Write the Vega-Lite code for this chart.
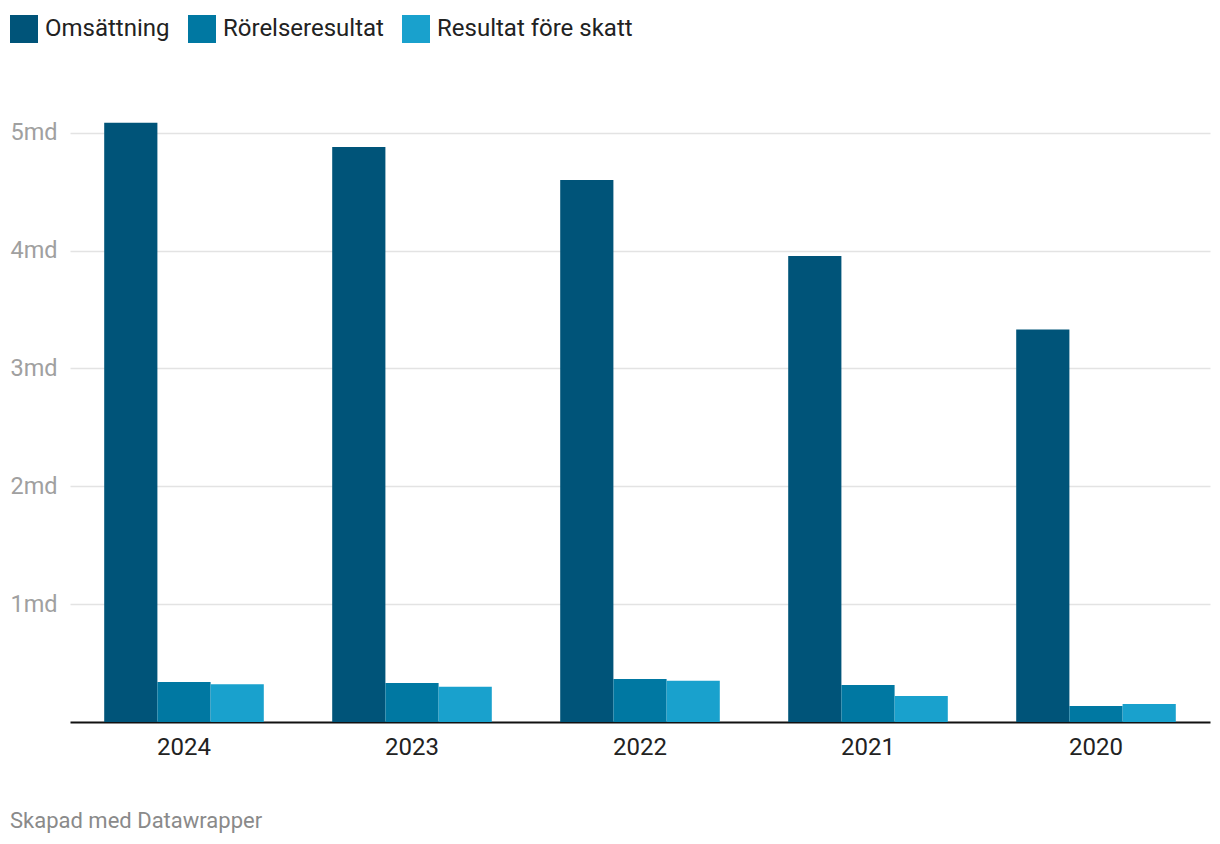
{
  "$schema": "https://vega.github.io/schema/vega-lite/v6.json",
  "autosize": {"type": "none"},
  "width": 1140,
  "height": 601,
  "padding": {"left": 70, "top": 121, "right": 10, "bottom": 122},
  "background": "white",
  "config": {
    "font": "Roboto",
    "view": {"stroke": null}
  },
  "title": {
    "text": "Skapad med Datawrapper",
    "orient": "bottom",
    "anchor": "start",
    "frame": "group",
    "dx": -60,
    "offset": 52,
    "fontSize": 22,
    "fontWeight": "normal",
    "color": "#8a8a8a",
    "font": "Roboto"
  },
  "data": {
    "values": [
      {"year": "2024", "serie": "Omsättning", "value": 5.085},
      {"year": "2024", "serie": "Rörelseresultat", "value": 0.34},
      {"year": "2024", "serie": "Resultat före skatt", "value": 0.32},
      {"year": "2023", "serie": "Omsättning", "value": 4.88},
      {"year": "2023", "serie": "Rörelseresultat", "value": 0.33},
      {"year": "2023", "serie": "Resultat före skatt", "value": 0.30},
      {"year": "2022", "serie": "Omsättning", "value": 4.60},
      {"year": "2022", "serie": "Rörelseresultat", "value": 0.365},
      {"year": "2022", "serie": "Resultat före skatt", "value": 0.35},
      {"year": "2021", "serie": "Omsättning", "value": 3.955},
      {"year": "2021", "serie": "Rörelseresultat", "value": 0.315},
      {"year": "2021", "serie": "Resultat före skatt", "value": 0.22},
      {"year": "2020", "serie": "Omsättning", "value": 3.33},
      {"year": "2020", "serie": "Rörelseresultat", "value": 0.135},
      {"year": "2020", "serie": "Resultat före skatt", "value": 0.152}
    ]
  },
  "mark": {"type": "bar"},
  "encoding": {
    "x": {
      "field": "year",
      "type": "nominal",
      "sort": ["2024", "2023", "2022", "2021", "2020"],
      "scale": {"paddingInner": 0.3, "paddingOuter": 0.15},
      "axis": {
        "title": null,
        "labelAngle": 0,
        "labelFontSize": 24,
        "labelColor": "#222222",
        "labelPadding": 13,
        "ticks": false,
        "domain": true,
        "domainColor": "#111111",
        "domainWidth": 2,
        "grid": false
      }
    },
    "xOffset": {
      "field": "serie",
      "type": "nominal",
      "sort": ["Omsättning", "Rörelseresultat", "Resultat före skatt"],
      "scale": {"paddingInner": 0, "paddingOuter": 0}
    },
    "y": {
      "field": "value",
      "type": "quantitative",
      "scale": {"domain": [0, 5.1], "nice": false},
      "axis": {
        "title": null,
        "values": [1, 2, 3, 4, 5],
        "labelExpr": "datum.value + 'md'",
        "labelAlign": "left",
        "labelPadding": 60,
        "labelFontSize": 23.5,
        "labelColor": "#a0a0a0",
        "ticks": false,
        "domain": false,
        "grid": true,
        "gridColor": "#e3e3e3",
        "gridWidth": 1.5
      }
    },
    "color": {
      "field": "serie",
      "type": "nominal",
      "sort": ["Omsättning", "Rörelseresultat", "Resultat före skatt"],
      "scale": {
        "domain": ["Omsättning", "Rörelseresultat", "Resultat före skatt"],
        "range": ["#005479", "#0078a2", "#19a1cd"]
      },
      "legend": {
        "title": null,
        "orient": "none",
        "direction": "horizontal",
        "legendX": -60,
        "legendY": -106,
        "symbolType": "square",
        "symbolSize": 784,
        "symbolStrokeWidth": 0,
        "symbolOpacity": 1,
        "labelFontSize": 24,
        "labelColor": "#222222",
        "labelOffset": 7,
        "columnPadding": 18,
        "labelLimit": 400
      }
    }
  }
}
